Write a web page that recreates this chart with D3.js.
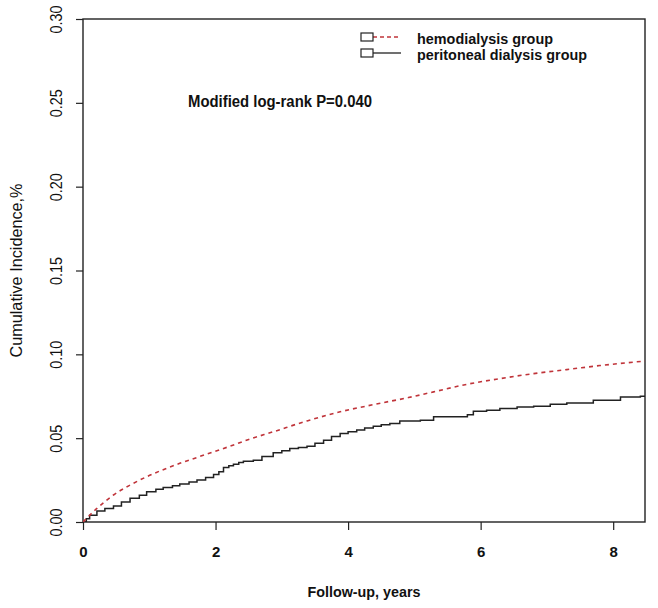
<!DOCTYPE html>
<html>
<head>
<meta charset="utf-8">
<script src="https://cdn.jsdelivr.net/npm/d3@7"></script>
<style>
  html, body { margin: 0; padding: 0; background: #fff; }
  svg { display: block; }
  text { font-family: "Liberation Sans", Arial, sans-serif; fill: #111; }
</style>
</head>
<body>
<svg id="chart" width="658" height="608"></svg>
<script>
// ---- data ----
const hemoTime = [0, 0.21, 0.46, 0.71, 0.96, 1.26, 1.46, 1.72, 1.97, 2.22, 2.50, 2.87, 3.38, 3.88, 4.38, 4.91, 5.29, 5.79, 6.29, 6.80, 7.30, 7.80, 8.48];
const hemoCI   = [0, 0.0081, 0.0161, 0.022, 0.027, 0.032, 0.035, 0.0385, 0.0419, 0.0452, 0.0492, 0.0538, 0.0603, 0.0657, 0.070, 0.0742, 0.0776, 0.0821, 0.0855, 0.0885, 0.0909, 0.0933, 0.096];

const pdTime = [0, 0.05, 0.1, 0.21, 0.33, 0.46, 0.58, 0.71, 0.85, 0.96, 1.1, 1.21, 1.35, 1.46, 1.6, 1.72, 1.85, 1.97, 2.05, 2.12, 2.2, 2.27, 2.35, 2.42, 2.57, 2.7, 2.87, 3.0, 3.12, 3.25, 3.38, 3.5, 3.63, 3.75, 3.88, 4.0, 4.13, 4.25, 4.38, 4.5, 4.63, 4.78, 5.09, 5.29, 5.74, 5.8, 5.89, 6.09, 6.29, 6.55, 6.80, 7.05, 7.30, 7.70, 8.11, 8.41, 8.48];
const pdCI   = [0, 0.002, 0.004, 0.0065, 0.008, 0.0095, 0.012, 0.0141, 0.016, 0.018, 0.0195, 0.0206, 0.0216, 0.0226, 0.0238, 0.025, 0.0265, 0.0284, 0.030, 0.0325, 0.0335, 0.0345, 0.0355, 0.0363, 0.0369, 0.039, 0.0413, 0.0425, 0.0438, 0.0445, 0.0452, 0.047, 0.0488, 0.051, 0.0528, 0.0538, 0.0548, 0.056, 0.0571, 0.058, 0.0587, 0.0603, 0.0607, 0.0627, 0.0627, 0.064, 0.066, 0.0667, 0.0677, 0.0686, 0.069, 0.0702, 0.071, 0.0726, 0.0746, 0.075, 0.0752];

const yTicks = [0, 0.05, 0.10, 0.15, 0.20, 0.25, 0.30];
const xTicks = [0, 2, 4, 6, 8];
const seriesNames = ["hemodialysis group", "peritoneal dialysis group"];
const annotation = "Modified log-rank P=0.040";
const xTitle = "Follow-up, years";
const yTitle = "Cumulative Incidence,%";

// ---- layout ----
const svg = d3.select("#chart");
const L = 83, R = 645, T = 19, B = 522;
const x = d3.scaleLinear().domain([0, 8.48]).range([L, R]);
const y = d3.scaleLinear().domain([0, 0.30]).range([B, T]);
const red = "#c0343a";
const dark = "#222";

svg.append("rect").attr("width", 658).attr("height", 608).attr("fill", "#fff");

// y axis
const gy = svg.append("g").attr("transform", `translate(${L},0)`)
  .call(d3.axisLeft(y).tickValues(yTicks).tickFormat(d3.format(".2f")).tickSize(7).tickSizeOuter(0));
gy.select(".domain").remove();
gy.selectAll(".tick line").attr("stroke", dark).attr("stroke-width", 1.2);
gy.selectAll(".tick text")
  .attr("x", null).attr("dy", null)
  .attr("transform", "translate(-21,0) rotate(-90)")
  .attr("text-anchor", "middle")
  .style("font-size", "16px")
  .attr("textLength", 28).attr("lengthAdjust", "spacingAndGlyphs");

// x axis
const gx = svg.append("g").attr("transform", `translate(0,${B})`)
  .call(d3.axisBottom(x).tickValues(xTicks).tickFormat(d3.format("d")).tickSize(8).tickSizeOuter(0));
gx.select(".domain").remove();
gx.selectAll(".tick line").attr("stroke", dark).attr("stroke-width", 1.2);
gx.selectAll(".tick text")
  .attr("y", 35).attr("dy", null)
  .style("font-size", "15px").style("font-weight", "bold");

// box
svg.append("rect").attr("x", L).attr("y", T).attr("width", R - L).attr("height", B - T)
  .attr("fill", "none").attr("stroke", dark).attr("stroke-width", 1.4);

// titles
svg.append("text").attr("x", (L + R) / 2).attr("y", 597).attr("text-anchor", "middle")
  .style("font-size", "15px").style("font-weight", "bold")
  .attr("textLength", 113).attr("lengthAdjust", "spacingAndGlyphs").text(xTitle);
svg.append("text").attr("transform", `translate(22,${(T + B) / 2}) rotate(-90)`)
  .attr("text-anchor", "middle").style("font-size", "16px")
  .attr("textLength", 174).attr("lengthAdjust", "spacingAndGlyphs").text(yTitle);

// curves
const hemo = hemoTime.map((t, i) => [t, hemoCI[i]]);
const pd = pdTime.map((t, i) => [t, pdCI[i]]);
const clip = svg.append("clipPath").attr("id", "clip").append("rect")
  .attr("x", L).attr("y", T).attr("width", R - L).attr("height", B - T);

svg.append("path").datum(pd)
  .attr("clip-path", "url(#clip)")
  .attr("d", d3.line().x(d => x(d[0])).y(d => y(d[1])).curve(d3.curveStepAfter))
  .attr("fill", "none").attr("stroke", dark).attr("stroke-width", 1.5);

svg.append("path").datum(hemo)
  .attr("clip-path", "url(#clip)")
  .attr("d", d3.line().x(d => x(d[0])).y(d => y(d[1])).curve(d3.curveMonotoneX))
  .attr("fill", "none").attr("stroke", red).attr("stroke-width", 1.6)
  .attr("stroke-dasharray", "4,4");

// annotation
svg.append("text").attr("x", 188).attr("y", 107)
  .style("font-size", "16px").style("font-weight", "bold")
  .attr("textLength", 184).attr("lengthAdjust", "spacingAndGlyphs").text(annotation);

// legend
const legY = [37, 53];
const legend = svg.append("g");
seriesNames.forEach((name, i) => {
  const g = legend.append("g");
  g.append("line").attr("x1", 373).attr("x2", 401).attr("y1", legY[i]).attr("y2", legY[i])
    .attr("stroke", i === 0 ? red : dark).attr("stroke-width", 1.3)
    .attr("stroke-dasharray", i === 0 ? "4,3" : null);
  g.append("rect").attr("x", 361).attr("y", legY[i] - 4).attr("width", 12).attr("height", 8)
    .attr("fill", "#fff").attr("stroke", dark).attr("stroke-width", 1.2);
  g.append("text").attr("x", 417).attr("y", legY[i] + 7)
    .style("font-size", "15px").style("font-weight", "bold")
    .attr("textLength", i === 0 ? 136 : 170).attr("lengthAdjust", "spacingAndGlyphs")
    .text(name);
});
</script>
</body>
</html>
